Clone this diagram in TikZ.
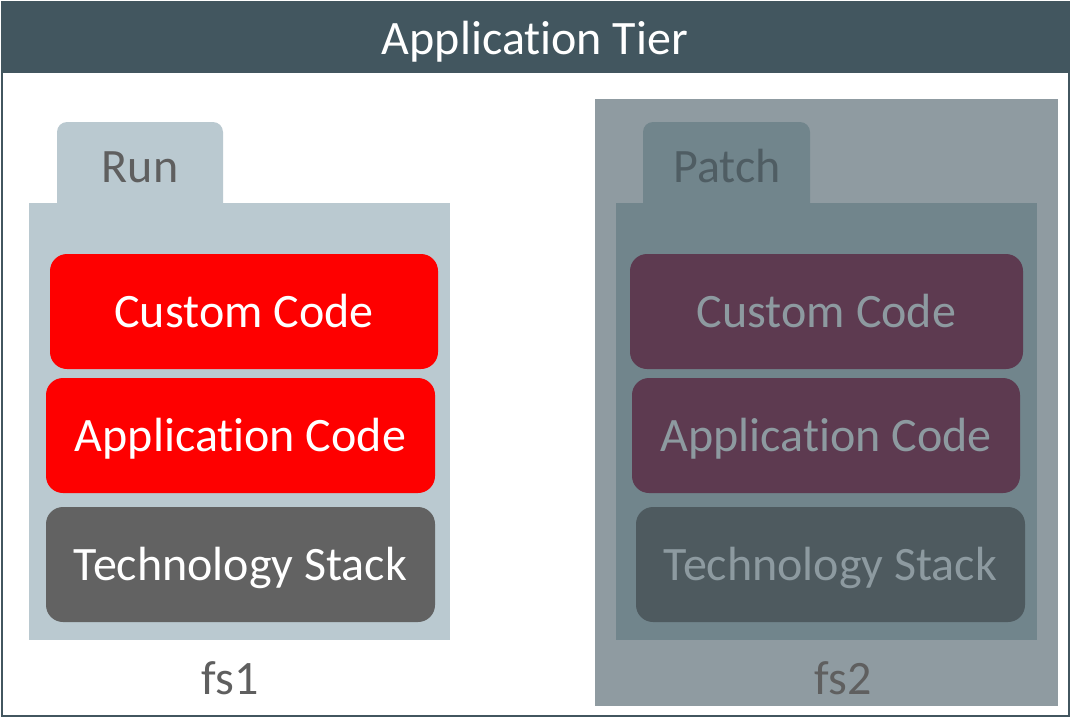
\documentclass[tikz,border=0pt]{standalone}
\usepackage{fontspec}
\setmainfont{Carlito}[Ligatures={NoCommon}]
\definecolor{tierhead}{HTML}{42565F}
\definecolor{runblue}{HTML}{BAC9D0}
\definecolor{codered}{HTML}{FE0000}
\definecolor{stackgray}{HTML}{626262}
\definecolor{labelgray}{HTML}{5F5F5F}
\definecolor{patchbg}{HTML}{8F9BA1}
\definecolor{patchfs}{HTML}{71858C}
\definecolor{patchcode}{HTML}{5D3A50}
\definecolor{patchstack}{HTML}{4E5A5F}
\definecolor{patchtext}{HTML}{8D9AA0}
\definecolor{patchlabel}{HTML}{4F5D63}
\begin{document}
\begin{tikzpicture}[x=1pt, y=-1pt,
        big/.style={font=\fontsize{48}{57}\selectfont, text height=32pt, text depth=0pt, inner sep=0pt},
        layer/.style={big, rounded corners=17pt, minimum height=115pt}]
            \useasboundingbox (0,0) rectangle (1071,718);
            % frame and header bar
            \draw[tierhead, line width=2pt] (2,2) rectangle (1069,716);
            \fill[tierhead] (1,1) rectangle (1070,73);
            \node[big, text=white] (tier) at (535,38) {Application Tier};
            % run file system (fs1)
            \fill[runblue, rounded corners=10pt] (57,122) rectangle (223,240);
            \fill[runblue] (29,203) rectangle (450,640);
            \node[big, text=labelgray] (run) at (140,166) {Run};
            \node[layer, fill=codered, text=white, minimum width=388pt] (custom1) at (244,311.5) {Custom Code};
            \node[layer, fill=codered, text=white, minimum width=389pt] (app1) at (240.5,435.5) {Application Code};
            \node[layer, fill=stackgray, text=white, minimum width=389pt] (stack1) at (240.5,564.5) {Technology Stack};
            \node[big, text=labelgray] (fs1) at (230,678) {fs1};
            % patch file system (fs2), greyed out
            \fill[patchbg] (595,99) rectangle (1058,706);
            \fill[patchfs, rounded corners=10pt] (643,122) rectangle (810,240);
            \fill[patchfs] (616,203) rectangle (1037,640);
            \node[big, text=patchlabel] (patch) at (727,166) {Patch};
            \node[layer, fill=patchcode, text=patchtext, minimum width=393pt] (custom2) at (826.5,311.5) {Custom Code};
            \node[layer, fill=patchcode, text=patchtext, minimum width=388pt] (app2) at (826,435.5) {Application Code};
            \node[layer, fill=patchstack, text=patchtext, minimum width=389pt] (stack2) at (830.5,564.5) {Technology Stack};
            \node[big, text=labelgray] (fs2) at (843,678) {fs2};
        \end{tikzpicture}
\end{document}
